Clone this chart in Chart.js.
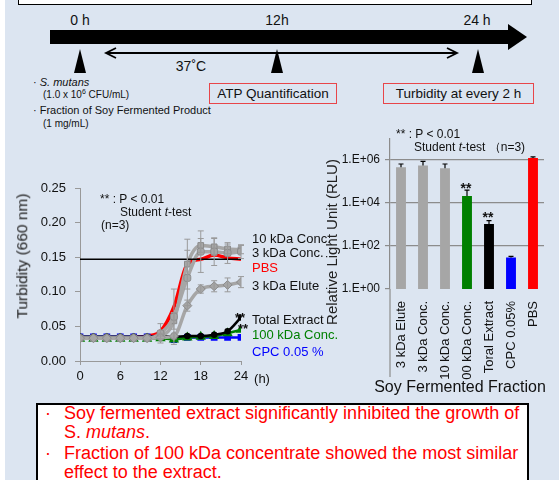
<!DOCTYPE html>
<html><head><meta charset="utf-8">
<script src="https://cdn.jsdelivr.net/npm/chart.js@4/dist/chart.umd.min.js"></script>
<style>
html,body{margin:0;padding:0;}
body{width:559px;height:480px;position:relative;overflow:hidden;background:#dce5f1;font-family:"Liberation Sans",Arial,sans-serif;color:#111;}
.t{position:absolute;white-space:nowrap;line-height:1;}
.c{transform:translate(-50%,-50%);}
.l{transform:translate(0,-50%);}
.box{position:absolute;box-sizing:border-box;}
.rot{position:absolute;white-space:nowrap;transform:translate(-50%,-50%) rotate(-90deg);line-height:1;}
</style></head>
<body>
<div class="box" style="left:0;top:0;width:5px;height:480px;background:#fff;"></div>
<div class="box" style="left:18px;top:-10px;width:514px;height:15px;background:#fff;border:1.5px solid #000;"></div>

<svg width="559" height="130" style="position:absolute;left:0;top:0;">
  <rect x="50" y="30" width="462" height="14" fill="#000"/>
  <polygon points="508,24 527,37 508,50" fill="#000"/>
  <polygon points="74,73 80,49 86,73" fill="#000"/>
  <polygon points="271,73 277,49 283,73" fill="#000"/>
  <polygon points="472,73 478,49 484,73" fill="#000"/>
  <line x1="106" y1="53" x2="457" y2="53" stroke="#000" stroke-width="1.8"/>
  <polyline points="116,48 106,53 116,58" fill="none" stroke="#000" stroke-width="1.8"/>
  <polyline points="447,48 457,53 447,58" fill="none" stroke="#000" stroke-width="1.8"/>
</svg>
<div class="t c" style="left:80px;top:20px;font-size:14px;">0 h</div>
<div class="t c" style="left:277px;top:20px;font-size:14px;">12h</div>
<div class="t c" style="left:477px;top:20px;font-size:14px;">24 h</div>
<div class="t c" style="left:191px;top:66px;font-size:14px;">37˚C</div>
<div class="box" style="left:209px;top:83px;width:128px;height:21px;border:1.3px solid #e8464a;"></div>
<div class="t c" style="left:273px;top:93.5px;font-size:13.5px;">ATP Quantification</div>
<div class="box" style="left:383px;top:83px;width:151px;height:21px;border:1.3px solid #e8464a;"></div>
<div class="t c" style="left:458.5px;top:93.5px;font-size:13.5px;">Turbidity at every 2 h</div>
<div class="t l" style="left:33px;top:82px;font-size:11px;">· <i>S. mutans</i></div>
<div class="t l" style="left:43px;top:94px;font-size:10px;">(1.0 x 10<sup style="font-size:7px;">6</sup> CFU/mL)</div>
<div class="t l" style="left:33px;top:110px;font-size:11px;">· Fraction of Soy Fermented Product</div>
<div class="t l" style="left:43px;top:124px;font-size:10px;">(1 mg/mL)</div>

<div style="position:absolute;left:0;top:170px;width:300px;height:230px;"><canvas id="lineChart"></canvas></div>
<div style="position:absolute;left:300px;top:120px;width:259px;height:280px;"><canvas id="barChart"></canvas></div>

<div class="rot" style="left:22px;top:256px;font-size:15.5px;color:#222;">Turbidity (660 nm)</div>
<div class="t l" style="left:100px;top:199px;font-size:12px;">** : P &lt; 0.01</div>
<div class="t l" style="left:120px;top:212px;font-size:12px;">Student <i>t</i>-test</div>
<div class="t l" style="left:101px;top:225px;font-size:12px;">(n=3)</div>
<div class="t l" style="left:252px;top:238px;font-size:13px;">10 kDa Conc.</div>
<div class="t l" style="left:252px;top:252px;font-size:13px;">3 kDa Conc.</div>
<div class="t l" style="left:252px;top:267px;font-size:13px;color:#ff0000;">PBS</div>
<div class="t l" style="left:252px;top:285px;font-size:13px;">3 kDa Elute</div>
<div class="t l" style="left:252px;top:319px;font-size:13px;">Total Extract</div>
<div class="t l" style="left:252px;top:334px;font-size:13px;color:#008000;">100 kDa Conc.</div>
<div class="t l" style="left:252px;top:351px;font-size:13px;color:#0000ff;">CPC 0.05 %</div>
<div class="t c" style="left:240px;top:317px;font-size:13px;font-weight:bold;">**</div>
<div class="t c" style="left:243px;top:328px;font-size:13px;font-weight:bold;">**</div>
<div class="t c" style="left:262px;top:378px;font-size:13px;">(h)</div>

<div class="rot" style="left:331px;top:242px;font-size:15px;color:#222;">Relative Light Unit (RLU)</div>
<div class="t l" style="left:396px;top:134px;font-size:12px;">** : P &lt; 0.01</div>
<div class="t l" style="left:414px;top:147px;font-size:12px;">Student <i>t</i>-test （n=3)</div>
<div class="t c" style="left:466px;top:188px;font-size:14px;font-weight:bold;">**</div>
<div class="t c" style="left:488px;top:217px;font-size:14px;font-weight:bold;">**</div>
<div class="t c" style="left:460px;top:387px;font-size:16px;">Soy Fermented Fraction</div>

<div class="box" style="left:36px;top:403px;width:493px;height:90px;background:#fff;border:2px solid #000;"></div>
<div class="t" style="left:45px;top:404px;font-size:18px;line-height:18.5px;color:#ff0000;">·</div>
<div class="t" style="left:64px;top:404px;font-size:18px;line-height:18.5px;color:#ff0000;">Soy fermented extract significantly inhibited the growth of<br>S. <i>mutans</i>.</div>
<div class="t" style="left:45px;top:444px;font-size:18px;line-height:18.5px;color:#ff0000;">·</div>
<div class="t" style="left:64px;top:444px;font-size:18px;line-height:18.5px;color:#ff0000;">Fraction of 100 kDa concentrate showed the most similar<br>effect to the extract.</div>

<script>
// ---- Line chart data (turbidity, every 2 h) ----
const hours = [0,2,4,6,8,10,12,14,16,18,20,22,24];
const kda10Conc    = [0.033,0.033,0.033,0.033,0.033,0.033,0.036,0.058,0.140,0.167,0.165,0.162,0.161];
const kda10ConcErr = [0,0,0,0,0,0,0.004,0.012,0.036,0.010,0.012,0.007,0.006];
const kda3Conc     = [0.033,0.033,0.033,0.033,0.033,0.033,0.040,0.064,0.120,0.158,0.158,0.156,0.158];
const kda3ConcErr  = [0,0,0,0,0,0,0.014,0.040,0.040,0.030,0.020,0.015,0.010];
const kda3Elute    = [0.033,0.033,0.033,0.033,0.033,0.033,0.034,0.036,0.080,0.104,0.108,0.110,0.114];
const kda3EluteErr = [0,0,0,0,0,0,0.002,0.004,0.008,0.006,0.008,0.010,0.008];
const totalExtract = [0.035,0.035,0.035,0.035,0.035,0.035,0.036,0.035,0.036,0.036,0.038,0.043,0.063];
const kda100Conc   = [0.032,0.032,0.032,0.032,0.032,0.032,0.033,0.031,0.034,0.035,0.036,0.040,0.045];
const cpc005       = [0.035,0.035,0.035,0.035,0.035,0.035,0.036,0.031,0.034,0.034,0.034,0.034,0.034];
const pbs          = [0.033,0.033,0.033,0.033,0.034,0.036,0.043,0.078,0.140,0.147,0.153,0.149,0.147];
const thresholdLevel = 0.147;
const turbidityTicks = [0,0.05,0.10,0.15,0.20,0.25];
const hourTicks = [0,6,12,18,24];

// ---- Bar chart data (ATP, RLU at 12 h) ----
const fractions = ['3 kDa Elute','3 kDa Conc.','10 kDa Conc.','00 kDa Conc.','Toral Extract','CPC 0.05%','PBS'];
const rlu    = [4.6e5,5.6e5,4.1e5,2.1e4,1.05e3,29,1.24e6];
const rluErr = [1.9e5,3.1e5,2.4e5,1.9e4,450,4,1.6e5];
const barColors = ['#a6a6a6','#a6a6a6','#a6a6a6','#008000','#000000','#0000ff','#ff0000'];
const rluTicks = [1,1e2,1e4,1e6];

Chart.defaults.font.family = '"Liberation Sans", Arial, sans-serif';
Chart.defaults.color = '#111';

const xy = arr => hours.map((h,i)=>({x:h,y:arr[i]}));

const errorBars = {
  id:'errorBars',
  afterDatasetsDraw(chart){
    const ctx = chart.ctx;
    const ys = chart.scales.y;
    chart.data.datasets.forEach((ds,di)=>{
      if(!ds.errors) return;
      const meta = chart.getDatasetMeta(di);
      ctx.save();
      ctx.strokeStyle = ds.errorColor || '#000';
      ctx.lineWidth = ds.errorWidth || 1;
      meta.data.forEach((el,i)=>{
        const e = ds.errors[i];
        if(!e) return;
        const v = typeof ds.data[i]==='object' ? ds.data[i].y : ds.data[i];
        const yt = ys.getPixelForValue(v+e);
        const yb = ds.upperOnly ? ys.getPixelForValue(v) : ys.getPixelForValue(v-e);
        const cap = ds.capWidth || 3;
        ctx.beginPath();
        ctx.moveTo(el.x,yt); ctx.lineTo(el.x,yb);
        ctx.moveTo(el.x-cap,yt); ctx.lineTo(el.x+cap,yt);
        if(!ds.upperOnly){ ctx.moveTo(el.x-cap,yb); ctx.lineTo(el.x+cap,yb); }
        ctx.stroke();
      });
      ctx.restore();
    });
  }
};

const gray = '#a6a6a6';
const base = {cubicInterpolationMode:'monotone', fill:false};
new Chart(document.getElementById('lineChart'),{
  type:'line',
  data:{datasets:[
    {...base,label:'threshold',data:[{x:0,y:thresholdLevel},{x:24,y:thresholdLevel}],borderColor:'#000',borderWidth:1.5,pointRadius:0},
    {...base,label:'3 kDa Elute',data:xy(kda3Elute),errors:kda3EluteErr,errorColor:'#9a9a9a',borderColor:gray,backgroundColor:gray,borderWidth:3.5,pointStyle:'rectRot',pointRadius:4.5,pointBorderColor:'#8a8a8a',pointBorderWidth:1},
    {...base,label:'3 kDa Conc.',data:xy(kda3Conc),errors:kda3ConcErr,errorColor:'#9a9a9a',borderColor:gray,backgroundColor:gray,borderWidth:3.5,pointStyle:'rectRounded',pointRadius:4,pointBorderColor:'#8a8a8a',pointBorderWidth:1},
    {...base,label:'10 kDa Conc.',data:xy(kda10Conc),errors:kda10ConcErr,errorColor:'#9a9a9a',borderColor:gray,backgroundColor:gray,borderWidth:3.5,pointStyle:'rect',pointRadius:4,pointBorderColor:'#8a8a8a',pointBorderWidth:1},
    {...base,label:'Total Extract',data:xy(totalExtract),borderColor:'#000',backgroundColor:'#000',borderWidth:2.5,pointStyle:'circle',pointRadius:2},
    {...base,label:'100 kDa Conc.',data:xy(kda100Conc),borderColor:'#008000',backgroundColor:'#008000',borderWidth:2.5,pointStyle:'triangle',pointRadius:3.5},
    {...base,label:'CPC 0.05 %',data:xy(cpc005),borderColor:'#0000ff',backgroundColor:'#0000ff',borderWidth:2.5,pointStyle:'rect',pointRadius:3},
    {...base,label:'PBS',data:xy(pbs),borderColor:'#ff0000',borderWidth:3.5,pointRadius:0,tension:0.4}
  ]},
  options:{
    responsive:true,maintainAspectRatio:false,animation:false,devicePixelRatio:1,
    layout:{padding:{left:0,top:18,right:59,bottom:0}},
    plugins:{legend:{display:false},tooltip:{enabled:false}},
    scales:{
      x:{type:'linear',min:0,max:24,
        afterBuildTicks:s=>{s.ticks=hourTicks.map(v=>({value:v}));},
        ticks:{font:{size:13},padding:4,autoSkip:false,maxRotation:0},
        grid:{drawOnChartArea:false,drawTicks:true,tickLength:4,color:'#999'},
        border:{color:'#999',width:1},
        afterFit:s=>{s.height=39;}},
      y:{min:0,max:0.25,
        afterBuildTicks:s=>{s.ticks=turbidityTicks.map(v=>({value:v}));},
        ticks:{font:{size:13},padding:9,callback:v=>v.toFixed(2)},
        grid:{drawOnChartArea:false,drawTicks:true,tickLength:5,color:'#999'},
        border:{color:'#999',width:1},
        afterFit:s=>{s.width=80;}}
    }
  },
  plugins:[errorBars]
});

const axisExtension = {
  id:'axisExtension',
  afterDraw(chart){
    const {ctx,chartArea} = chart;
    ctx.save();
    ctx.strokeStyle='#8c8c8c'; ctx.lineWidth=1.2;
    ctx.beginPath();
    ctx.moveTo(chartArea.left,chartArea.bottom);
    ctx.lineTo(chartArea.left,chartArea.bottom+88);
    ctx.stroke();
    ctx.restore();
  }
};

new Chart(document.getElementById('barChart'),{
  type:'bar',
  data:{labels:fractions,datasets:[{data:rlu,errors:rluErr,upperOnly:true,errorColor:'#000',errorWidth:1.2,capWidth:2.5,backgroundColor:barColors,barPercentage:0.45,categoryPercentage:1}]},
  options:{
    responsive:true,maintainAspectRatio:false,animation:false,devicePixelRatio:1,
    layout:{padding:{left:0,top:18.5,right:15,bottom:0}},
    plugins:{legend:{display:false},tooltip:{enabled:false}},
    scales:{
      x:{ticks:{font:{size:13},padding:4,minRotation:90,maxRotation:90,autoSkip:false},
        grid:{display:false},border:{display:false},
        afterFit:s=>{s.height=111;}},
      y:{type:'logarithmic',min:1,max:1e7,
        afterBuildTicks:s=>{s.ticks=rluTicks.map(v=>({value:v}));},
        ticks:{font:{size:12},padding:5,callback:v=>'1.E+'+String(Math.round(Math.log10(v))).padStart(2,'0')},
        grid:{drawOnChartArea:true,drawTicks:true,tickLength:5,lineWidth:1.2,
          color:c=>c.tick&&c.tick.value===1?'rgba(0,0,0,0)':'#8c8c8c',tickColor:'#8c8c8c'},
        border:{color:'#8c8c8c',width:1.2},
        afterFit:s=>{s.width=90;}}
    }
  },
  plugins:[errorBars,axisExtension]
});
</script>
</body></html>
